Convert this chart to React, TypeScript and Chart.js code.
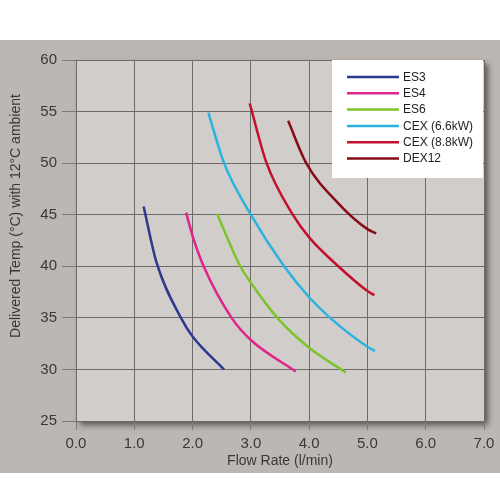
import { useEffect, useRef } from "react";
import { Chart, registerables, Plugin } from "chart.js";

Chart.register(...registerables);

const seriesLabels = ["ES3", "ES4", "ES6", "CEX (6.6kW)", "CEX (8.8kW)", "DEX12"];
const seriesColors = ["#2b3a8e", "#e0248c", "#7cc42c", "#2bb3e0", "#c4102c", "#870c16"];
const yTitle = "Delivered Temp (°C) with 12°C ambient";

// flow rate (l/min) / delivered temp (°C)
const es3Flow = [1.16, 1.38, 1.81, 2.0, 2.54];
const es3Temp = [45.8, 40.4, 34.9, 33.2, 30];
const es4Flow = [1.89, 2.0, 2.19, 2.67, 3.0, 3.77];
const es4Temp = [45.2, 42.95, 40, 35, 32.85, 29.8];
const es6Flow = [2.42, 2.81, 3.0, 3.47, 4.0, 4.63];
const es6Temp = [45.1, 40.1, 38.4, 34.9, 32.1, 29.7];
const cex66Flow = [2.27, 2.54, 3.0, 3.57, 4.0, 4.36, 5.0, 5.13];
const cex66Temp = [54.9, 50, 45, 40, 37, 35, 32.2, 31.8];
const cex88Flow = [2.98, 3.27, 3.72, 4.0, 4.5, 5.0, 5.12];
const cex88Temp = [55.8, 50, 45, 42.8, 40, 37.6, 37.2];
const dex12Flow = [3.64, 3.95, 4.5, 5.0, 5.15];
const dex12Temp = [54.1, 50, 46.1, 43.6, 43.2];

const flows = [es3Flow, es4Flow, es6Flow, cex66Flow, cex88Flow, dex12Flow];
const temps = [es3Temp, es4Temp, es6Temp, cex66Temp, cex88Temp, dex12Temp];

const FONT = "'Liberation Sans', Arial, Helvetica, sans-serif";
const TEXT = "#3a3836";

const backdrop: Plugin<"line"> = {
  id: "backdrop",
  beforeDraw(chart) {
    const { ctx, chartArea: a } = chart;
    ctx.save();
    ctx.fillStyle = "#ffffff";
    ctx.fillRect(0, 0, chart.width, chart.height);
    ctx.fillStyle = "#bdb7b4";
    ctx.fillRect(0, 40, chart.width, 433);
    ctx.shadowColor = "rgba(0,0,0,0.55)";
    ctx.shadowBlur = 6;
    ctx.shadowOffsetX = 4;
    ctx.shadowOffsetY = 4;
    ctx.fillStyle = "#d1cdca";
    ctx.fillRect(a.left, a.top, a.right - a.left, a.bottom - a.top);
    ctx.restore();

    // y axis title sits a bit above the plot's middle
    ctx.save();
    ctx.translate(16, 216);
    ctx.rotate(-Math.PI / 2);
    ctx.font = `14px ${FONT}`;
    ctx.fillStyle = TEXT;
    ctx.textAlign = "center";
    ctx.textBaseline = "middle";
    ctx.fillText(yTitle, 0, 0);
    ctx.restore();
  },
  afterDraw(chart) {
    const { ctx, chartArea: a } = chart;
    const w = 151;
    const h = 118;
    const x0 = a.right - w - 1;
    const y0 = a.top;
    ctx.save();
    ctx.fillStyle = "#ffffff";
    ctx.fillRect(x0, y0, w, h);
    ctx.font = `12px ${FONT}`;
    ctx.textBaseline = "middle";
    chart.data.datasets.forEach((ds, i) => {
      const y = y0 + 17 + i * 16.3;
      ctx.strokeStyle = ds.borderColor as string;
      ctx.lineWidth = 2.5;
      ctx.beginPath();
      ctx.moveTo(x0 + 15, y);
      ctx.lineTo(x0 + 67, y);
      ctx.stroke();
      ctx.fillStyle = "#222";
      ctx.fillText(ds.label as string, x0 + 71, y + 0.5);
    });
    ctx.restore();
  },
};

export default function App() {
  const canvasRef = useRef<HTMLCanvasElement | null>(null);
  const chartRef = useRef<Chart<"line"> | null>(null);

  useEffect(() => {
    if (!canvasRef.current) return;
    if (chartRef.current) chartRef.current.destroy();

    chartRef.current = new Chart(canvasRef.current, {
      type: "line",
      data: {
        datasets: seriesLabels.map((label, i) => ({
          label,
          data: flows[i].map((f, j) => ({ x: f, y: temps[i][j] })),
          borderColor: seriesColors[i],
          backgroundColor: seriesColors[i],
          borderWidth: 2.5,
          pointRadius: 0,
          cubicInterpolationMode: "monotone" as const,
          fill: false,
        })),
      },
      options: {
        animation: false,
        responsive: false,
        maintainAspectRatio: false,
        layout: { padding: { top: 60, right: 16, bottom: 27, left: 0 } },
        plugins: { legend: { display: false }, tooltip: { enabled: false } },
        scales: {
          x: {
            type: "linear",
            min: 0,
            max: 7,
            ticks: {
              stepSize: 1,
              padding: 5,
              color: TEXT,
              font: { family: FONT, size: 15 },
              callback: (v) => Number(v).toFixed(1),
            },
            grid: { color: "#6e6a68", tickColor: "#7e7876", tickLength: 9, lineWidth: 1 },
            border: { display: false },
            title: {
              display: true,
              text: "Flow Rate (l/min)",
              color: TEXT,
              font: { family: FONT, size: 14 },
              padding: { top: 0, bottom: 3 },
            },
            afterFit: (s) => {
              s.height = 52;
            },
          },
          y: {
            type: "linear",
            min: 25,
            max: 60,
            ticks: {
              stepSize: 5,
              padding: 5,
              color: TEXT,
              font: { family: FONT, size: 15 },
            },
            grid: { color: "#6e6a68", tickColor: "#7e7876", tickLength: 14, lineWidth: 1 },
            border: { display: false },
            afterFit: (s) => {
              s.width = 76;
            },
          },
        },
      },
      plugins: [backdrop],
    });

    return () => {
      if (chartRef.current) {
        chartRef.current.destroy();
        chartRef.current = null;
      }
    };
  }, []);

  return (
    <div style={{ position: "fixed", left: 0, top: 0, width: 500, height: 500 }}>
      <canvas ref={canvasRef} width={500} height={500} />
    </div>
  );
}
